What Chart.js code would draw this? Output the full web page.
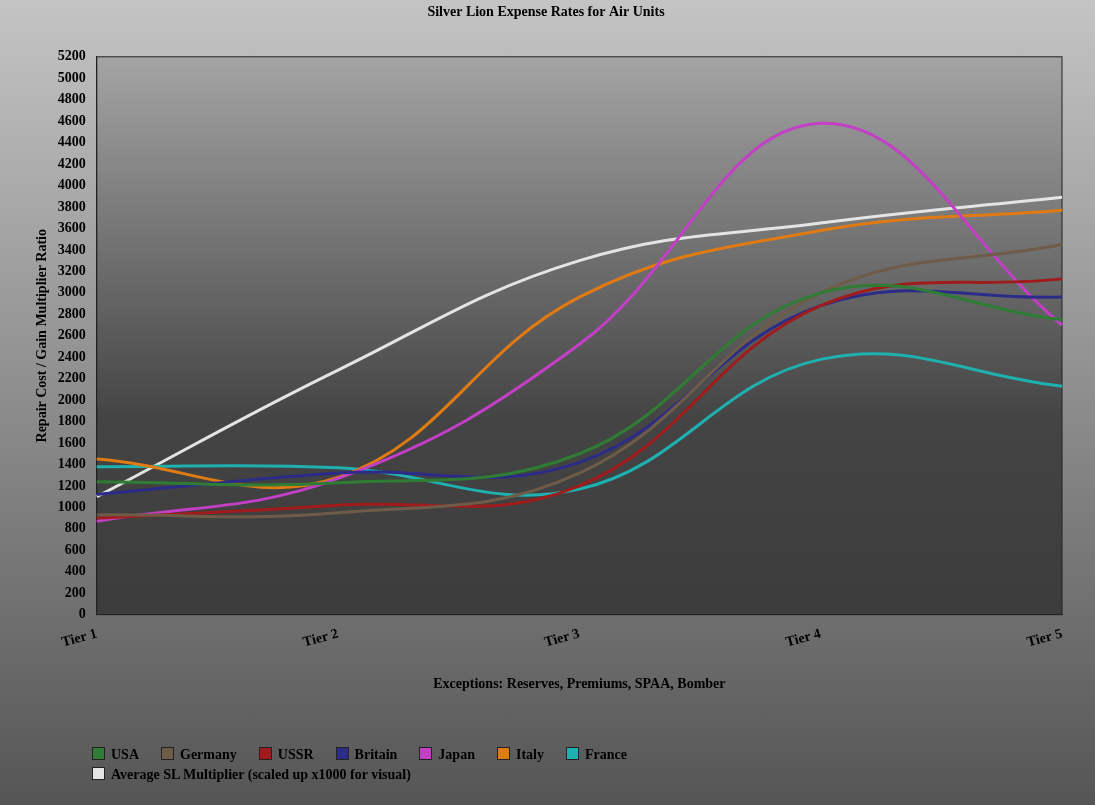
<!DOCTYPE html>
<html>
<head>
<meta charset="utf-8">
<script src="https://cdn.jsdelivr.net/npm/chart.js@4"></script>
<style>
html,body{margin:0;padding:0;}
body{width:1095px;height:805px;background:linear-gradient(#c4c4c4,#555555);overflow:hidden;}
#wrap{width:1095px;height:805px;position:relative;}
#legend{position:absolute;left:92px;top:745px;width:700px;font:bold 14px 'Liberation Serif',serif;color:#000;}
#legend span.item{display:inline-block;margin-right:22px;line-height:20px;}
#legend i{display:inline-block;width:11px;height:11px;border:1px solid #222;margin-right:6px;vertical-align:-1px;}
</style>
</head>
<body>
<div id="wrap"><canvas id="myChart" width="1095" height="805"></canvas><div id="legend"></div></div>
<script>
// data
var tiers = ["Tier 1", "Tier 2", "Tier 3", "Tier 4", "Tier 5"];
var usa = [1240, 1230, 1500, 3000, 2750];
var germany = [930, 950, 1320, 3000, 3450];
var ussr = [900, 1020, 1200, 2880, 3130];
var britain = [1120, 1320, 1420, 2880, 2960];
var japan = [870, 1270, 2520, 4580, 2700];
var italy = [1450, 1280, 2960, 3580, 3770];
var france = [1380, 1370, 1170, 2380, 2130];
var average = [1100, 2280, 3300, 3650, 3890];

function line(label, data, color) {
    return { label: label, data: data, borderColor: color, backgroundColor: color,
             borderWidth: 3, pointRadius: 0, tension: 0.4, fill: false };
}

// gradient behind plot area
var plotBg = {
    id: 'plotBg',
    beforeDraw: function(chart) {
        var a = chart.chartArea, c = chart.ctx;
        var g = c.createLinearGradient(0, a.top, 0, a.bottom);
        g.addColorStop(0, '#a4a4a4');
        g.addColorStop(0.65, '#444444');
        g.addColorStop(1, '#3c3c3c');
        c.save();
        c.fillStyle = g;
        c.fillRect(a.left, a.top, a.right - a.left, a.bottom - a.top);
        c.strokeStyle = '#222';
        c.lineWidth = 1;
        c.strokeRect(a.left, a.top, a.right - a.left, a.bottom - a.top);
        c.restore();
    }
};

Chart.defaults.font.family = "'Liberation Serif', serif";
Chart.defaults.font.weight = 'bold';
Chart.defaults.color = '#000';

var ctx = document.getElementById("myChart").getContext('2d');
var myChart = new Chart(ctx, {
    type: 'line',
    data: {
        labels: tiers,
        datasets: [
            line("USA", usa, "#2f7d34"),
            line("Germany", germany, "#6e5c48"),
            line("USSR", ussr, "#a01c1c"),
            line("Britain", britain, "#2c2c88"),
            line("Japan", japan, "#c23fc6"),
            line("Italy", italy, "#e07a12"),
            line("France", france, "#1fb0b0"),
            line("Average SL Multiplier (scaled up x1000 for visual)", average, "#e4e4e4")
        ]
    },
    options: {
        responsive: false,
        animation: false,
        layout: { padding: { left: 30, right: 33, top: 0, bottom: 112 } },
        plugins: {
            title: { display: true, text: "Silver Lion Expense Rates for Air Units",
                     font: { size: 14 }, padding: { top: 4, bottom: 36 } },
            legend: { display: false },
            tooltip: { enabled: false }
        },
        scales: {
            x: {
                offset: false,
                grid: { display: false },
                border: { color: '#222' },
                ticks: { maxRotation: 15, minRotation: 15, font: { size: 14 } },
                title: { display: true, text: "Exceptions: Reserves, Premiums, SPAA, Bomber",
                         font: { size: 14 }, padding: { top: 22, bottom: 0 } }
            },
            y: {
                min: 0, max: 5200,
                grid: { display: false },
                border: { color: '#222' },
                ticks: { stepSize: 200, autoSkip: false, font: { size: 14 },
                         callback: function(v) { return String(v); } },
                title: { display: true, text: "Repair Cost / Gain Multiplier Ratio", font: { size: 14 } }
            }
        }
    },
    plugins: [plotBg]
});

// html legend, wraps like the original
var lg = document.getElementById('legend');
myChart.data.datasets.forEach(function(ds) {
    var s = document.createElement('span');
    s.className = 'item';
    s.innerHTML = '<i style="background:' + ds.borderColor + '"></i>' + ds.label;
    lg.appendChild(s);
});
</script>
</body>
</html>
